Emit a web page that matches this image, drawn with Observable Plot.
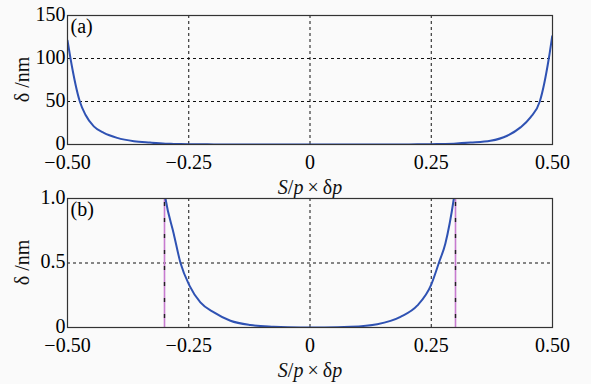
<!DOCTYPE html>
<html><head><meta charset="utf-8">
<script src="https://cdn.jsdelivr.net/npm/d3@7"></script>
<script src="https://cdn.jsdelivr.net/npm/@observablehq/plot@0.6"></script>
<style>body{margin:0;background:#fafafa;}</style></head><body>
<div id="a"></div>
<script>
// Curve: x = S/p × δp, delta in nm
const xs    = [-0.5, -0.4938, -0.4746, -0.463, -0.4458, -0.425, -0.3975, -0.363, -0.33, -0.298, -0.281, -0.267, -0.2485, -0.226, -0.198, -0.164, -0.123, -0.075, -0.02, 0, 0.03, 0.0835, 0.1386, 0.1866, 0.221, 0.25, 0.2656, 0.279, 0.2966, 0.331, 0.372, 0.4066, 0.434, 0.4546, 0.4738, 0.4924, 0.4994];
const delta = [121, 100, 50, 34.6, 21.1, 13.5, 7.7, 3.8, 2.2, 1.0, 0.727, 0.5, 0.325, 0.195, 0.117, 0.052, 0.019, 0.006, 0, 0, 0, 0.005, 0.026, 0.083, 0.169, 0.333, 0.5, 0.65, 1.0, 2.2, 4.3, 10.2, 19.9, 31.6, 50, 100, 126];
const limitX = [-0.3, 0.3];

const xTicks = [-0.5, -0.25, 0, 0.25, 0.5];
const xTickLabels = ["\u22120.50", "\u22120.25", "0", "0.25", "0.50"];
const gridX = [-0.25, 0, 0.25];
const yTicksA = [0, 50, 100, 150];
const yTickLabelsA = ["0", "50", "100", "150"];
const gridYA = [50, 100];
const yTicksB = [0, 0.5, 1];
const yTickLabelsB = ["0", "0.5", "1.0"];
const gridYB = [0.5];
const panelLabels = ["(a)", "(b)"];

const data = xs.map((x, i) => ({x, d: delta[i]}));
const FONT = "Liberation Serif";
const BLUE = "#2f52b3";

function panel({h, mt, mb, yDomain, yTicks, yLabels, gridY, label, limits}) {
  const marks = [
    Plot.ruleX(gridX, {stroke: "#111", strokeWidth: 1, strokeDasharray: "3,3"}),
    Plot.ruleY(gridY, {stroke: "#111", strokeWidth: 1, strokeDasharray: "3,3"})
  ];
  if (limits) {
    marks.push(Plot.ruleX(limitX, {stroke: "#c77bcf", strokeWidth: 1.6}));
    marks.push(Plot.ruleX(limitX, {stroke: "#222", strokeWidth: 1.4, strokeDasharray: "4,12", strokeDashoffset: -4}));
  }
  marks.push(
    Plot.line(data, {x: "x", y: "d", stroke: BLUE, strokeWidth: 2, curve: "monotone-x", clip: true}),
    Plot.frame({stroke: "#333", strokeWidth: 1.2}),
    Plot.axisX(xTicks, {tickSize: 0, tickPadding: 10, fontSize: 20, label: null,
      tickFormat: d => xTickLabels[xTicks.indexOf(d)]}),
    Plot.axisY(yTicks, {tickSize: 0, tickPadding: 2, fontSize: 20, label: null, dy: -1,
      tickFormat: d => yLabels[yTicks.indexOf(d)]}),
    Plot.text([label], {frameAnchor: "top-left", dx: 3, dy: 3, lineAnchor: "top", textAnchor: "start", fontSize: 20})
  );
  const svg = Plot.plot({
    width: 591, height: h,
    marginTop: mt, marginBottom: mb,
    marginLeft: 67, marginRight: 39,
    style: {fontFamily: FONT, background: "transparent", overflow: "visible"},
    x: {domain: [-0.5, 0.5]},
    y: {domain: yDomain},
    marks
  });
  svg.setAttribute("font-family", FONT);
  const s = d3.select(svg);
  const fb = h - mb;
  // x label: S/p × δp
  const t = s.append("text").attr("x", 310).attr("y", fb + 50).attr("text-anchor", "middle")
    .attr("font-size", 20).attr("fill", "#111").attr("font-family", FONT);
  t.append("tspan").attr("font-style", "italic").text("S");
  t.append("tspan").text("/");
  t.append("tspan").attr("font-style", "italic").text("p");
  t.append("tspan").text("\u2009\u00d7\u2009\u03b4");
  t.append("tspan").attr("font-style", "italic").text("p");
  // y label
  const cy = mt + (fb - mt) / 2;
  s.append("text").attr("transform", `translate(29,${cy}) rotate(-90)`).attr("text-anchor", "middle")
    .attr("font-size", 20).attr("fill", "#111").attr("font-family", FONT).text("\u03b4 /nm");
  document.getElementById("a").appendChild(svg);
}

panel({h: 184, mt: 15, mb: 40, yDomain: [0, 150], yTicks: yTicksA, yLabels: yTickLabelsA, gridY: gridYA, label: panelLabels[0], limits: false});
panel({h: 200, mt: 14, mb: 57, yDomain: [0, 1], yTicks: yTicksB, yLabels: yTickLabelsB, gridY: gridYB, label: panelLabels[1], limits: true});
</script></body></html>
